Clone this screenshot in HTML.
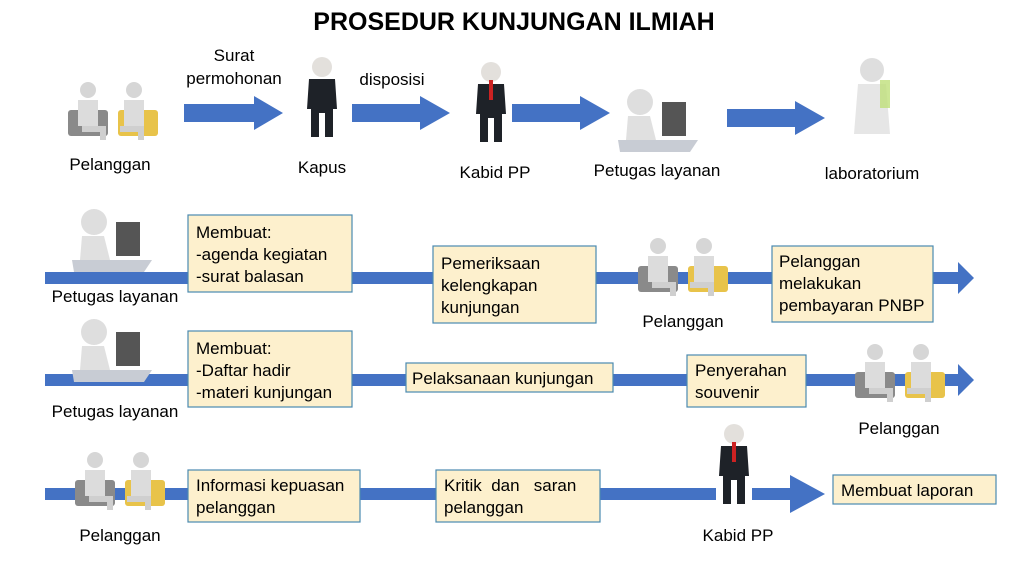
<!DOCTYPE html>
<html><head><meta charset="utf-8"><style>
body{margin:0;background:#fff;}
svg{display:block;font-family:"Liberation Sans",Calibri,sans-serif;}
.t{font-size:17px;fill:#000;}
.b{fill:#fdf0cd;stroke:#4a8ab0;stroke-width:1.2;}
</style></head><body>
<svg width="1024" height="576" viewBox="0 0 1024 576" xmlns="http://www.w3.org/2000/svg">
<defs>
<g id="pair">
 <rect x="0" y="30" width="40" height="26" fill="#8a8a8a" rx="3"/>
 <rect x="50" y="30" width="40" height="26" fill="#e8c34a" rx="3"/>
 <circle cx="20" cy="10" r="8" fill="#d6d6d6"/>
 <path d="M10 20 h20 v26 h-20z" fill="#dcdcdc"/>
 <path d="M14 46 h24 v14 h-6 v-8 h-18z" fill="#cfcfcf"/>
 <circle cx="66" cy="10" r="8" fill="#d6d6d6"/>
 <path d="M56 20 h20 v26 h-20z" fill="#dcdcdc"/>
 <path d="M52 46 h24 v14 h-6 v-8 h-18z" fill="#cfcfcf"/>
</g>
<g id="suit">
 <circle cx="15" cy="10" r="10" fill="#e3e0dc"/>
 <path d="M2 22 h26 l2 30 h-4 v28 h-8 v-24 h-6 v24 h-8 v-28 h-4z" fill="#1e2228"/>
</g>
<g id="desk">
 <circle cx="22" cy="14" r="13" fill="#dedede"/>
 <path d="M10 28 h22 l6 24 h-30z" fill="#e0e0e0"/>
 <rect x="44" y="14" width="24" height="34" fill="#555"/>
 <path d="M0 52 h80 l-8 12 h-70z" fill="#c8ccd4"/>
</g>
</defs>

<text x="514" y="30" text-anchor="middle" font-size="25" font-weight="bold">PROSEDUR KUNJUNGAN ILMIAH</text>

<!-- Row 1 -->
<use href="#pair" x="68" y="80"/>
<text class="t" x="110" y="170" text-anchor="middle">Pelanggan</text>
<path d="M184 104 h70 v-8 l29 17 -29 17 v-8 h-70z" fill="#4472c4"/>
<text class="t" x="234" y="61" text-anchor="middle">Surat</text>
<text class="t" x="234" y="84" text-anchor="middle">permohonan</text>
<use href="#suit" x="307" y="57"/>
<text class="t" x="322" y="173" text-anchor="middle">Kapus</text>
<path d="M352 104 h68 v-8 l30 17 -30 17 v-8 h-68z" fill="#4472c4"/>
<text class="t" x="392" y="85" text-anchor="middle">disposisi</text>
<use href="#suit" x="476" y="62"/>
<rect x="489" y="80" width="4" height="20" fill="#c22"/>
<text class="t" x="495" y="178" text-anchor="middle">Kabid PP</text>
<path d="M512 104 h68 v-8 l30 17 -30 17 v-8 h-68z" fill="#4472c4"/>
<use href="#desk" x="618" y="88"/>
<text class="t" x="657" y="176" text-anchor="middle">Petugas layanan</text>
<path d="M727 109 h68 v-8 l30 17 -30 17 v-8 h-68z" fill="#4472c4"/>
<circle cx="872" cy="70" r="12" fill="#dedede"/>
<path d="M858 84 h28 l4 50 h-36z" fill="#e6e6e6"/>
<rect x="880" y="80" width="10" height="28" fill="#bfe07a" opacity=".8"/>
<text class="t" x="872" y="179" text-anchor="middle">laboratorium</text>

<!-- Row 2 -->
<path d="M45 272 h913 v-10 l16 16 -16 16 v-10 h-913z" fill="#4472c4"/>
<use href="#desk" x="72" y="208"/>
<text class="t" x="115" y="302" text-anchor="middle">Petugas layanan</text>
<rect class="b" x="188" y="215" width="164" height="77"/>
<text class="t" x="196" y="238">Membuat:</text>
<text class="t" x="196" y="260">-agenda kegiatan</text>
<text class="t" x="196" y="282">-surat balasan</text>
<rect class="b" x="433" y="246" width="163" height="77"/>
<text class="t" x="441" y="269">Pemeriksaan</text>
<text class="t" x="441" y="291">kelengkapan</text>
<text class="t" x="441" y="313">kunjungan</text>
<use href="#pair" x="638" y="236"/>
<text class="t" x="683" y="327" text-anchor="middle">Pelanggan</text>
<rect class="b" x="772" y="246" width="161" height="76"/>
<text class="t" x="779" y="267">Pelanggan</text>
<text class="t" x="779" y="289">melakukan</text>
<text class="t" x="779" y="311">pembayaran PNBP</text>

<!-- Row 3 -->
<path d="M45 374 h913 v-10 l16 16 -16 16 v-10 h-913z" fill="#4472c4"/>
<use href="#desk" x="72" y="318"/>
<text class="t" x="115" y="417" text-anchor="middle">Petugas layanan</text>
<rect class="b" x="188" y="331" width="164" height="76"/>
<text class="t" x="196" y="354">Membuat:</text>
<text class="t" x="196" y="376">-Daftar hadir</text>
<text class="t" x="196" y="398">-materi kunjungan</text>
<rect class="b" x="406" y="363" width="207" height="29"/>
<text class="t" x="412" y="384">Pelaksanaan kunjungan</text>
<rect class="b" x="687" y="355" width="119" height="52"/>
<text class="t" x="695" y="376">Penyerahan</text>
<text class="t" x="695" y="398">souvenir</text>
<use href="#pair" x="855" y="342"/>
<text class="t" x="899" y="434" text-anchor="middle">Pelanggan</text>

<!-- Row 4 -->
<path d="M45 488 h745 v-13 l35 19 -35 19 v-13 h-745z" fill="#4472c4"/>
<use href="#pair" x="75" y="450"/>
<text class="t" x="120" y="541" text-anchor="middle">Pelanggan</text>
<rect class="b" x="188" y="470" width="172" height="52"/>
<text class="t" x="196" y="491">Informasi kepuasan</text>
<text class="t" x="196" y="513">pelanggan</text>
<rect class="b" x="436" y="470" width="164" height="52"/>
<text class="t" x="444" y="491">Kritik&#160;&#160;dan&#160;&#160;&#160;saran</text>
<text class="t" x="444" y="513">pelanggan</text>
<rect x="716" y="420" width="36" height="100" fill="#fff"/>
<use href="#suit" x="719" y="424"/>
<rect x="732" y="442" width="4" height="20" fill="#c22"/>
<text class="t" x="738" y="541" text-anchor="middle">Kabid PP</text>
<rect class="b" x="833" y="475" width="163" height="29"/>
<text class="t" x="841" y="496">Membuat laporan</text>
</svg>
</body></html>
